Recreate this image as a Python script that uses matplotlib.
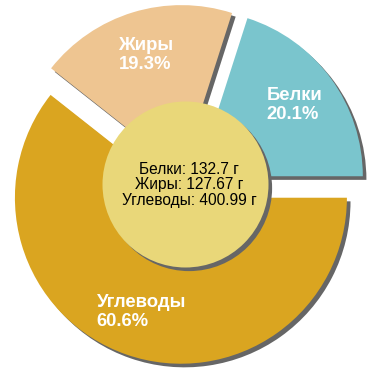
import matplotlib
matplotlib.use("Agg")
import matplotlib.pyplot as plt
import matplotlib.patheffects as pe
from matplotlib.patches import Circle

names = ["Белки", "Жиры", "Углеводы"]
grams = [132.7, 127.67, 400.99]
colors = ["#7ac5cd", "#eec591", "#daa520"]
center_color = "#e9d779"
shadow_color = "#666666"


def main() -> None:
    plt.rcParams["font.family"] = ["Liberation Sans", "DejaVu Sans"]

    fig = plt.figure(figsize=(3.7, 3.7), dpi=100)
    ax = fig.add_axes([0, 0, 1, 1])

    total = sum(grams)
    labels = [f"{n}\n{g / total * 100:.1f}%" for n, g in zip(names, grams)]

    shadow = [
        pe.SimplePatchShadow(offset=(2.6, -2.6), shadow_rgbFace=shadow_color, alpha=1.0),
        pe.Normal(),
    ]

    wedges, texts = ax.pie(
        grams,
        labels=labels,
        colors=colors,
        explode=[14, 14, 14],
        radius=166,
        center=(185.5, 185.5),
        startangle=0,
        counterclock=True,
        labeldistance=0.73,
        textprops=dict(color="white", fontsize=13.3, fontweight="bold"),
    )
    for w in wedges:
        w.set_path_effects(shadow)
    for t in texts:
        t.set_horizontalalignment("center")
        t.set_verticalalignment("center")
        t.set_multialignment("left")
        t.set_linespacing(1.15)

    hole = Circle((185.5, 185.5), 83, facecolor=center_color, edgecolor="none", zorder=3)
    hole.set_path_effects(shadow)
    ax.add_patch(hole)

    info = "\n".join(f"{n}: {g:g} г" for n, g in zip(names, grams))
    ax.text(189, 185, info, ha="center", va="center", fontsize=11.2,
            linespacing=1.05, color="black", zorder=4)

    ax.set_xlim(0, 370)
    ax.set_ylim(0, 370)
    ax.set_aspect("equal")
    ax.axis("off")

    fig.savefig("out.png", dpi=100, facecolor="white")


if __name__ == "__main__":
    main()
